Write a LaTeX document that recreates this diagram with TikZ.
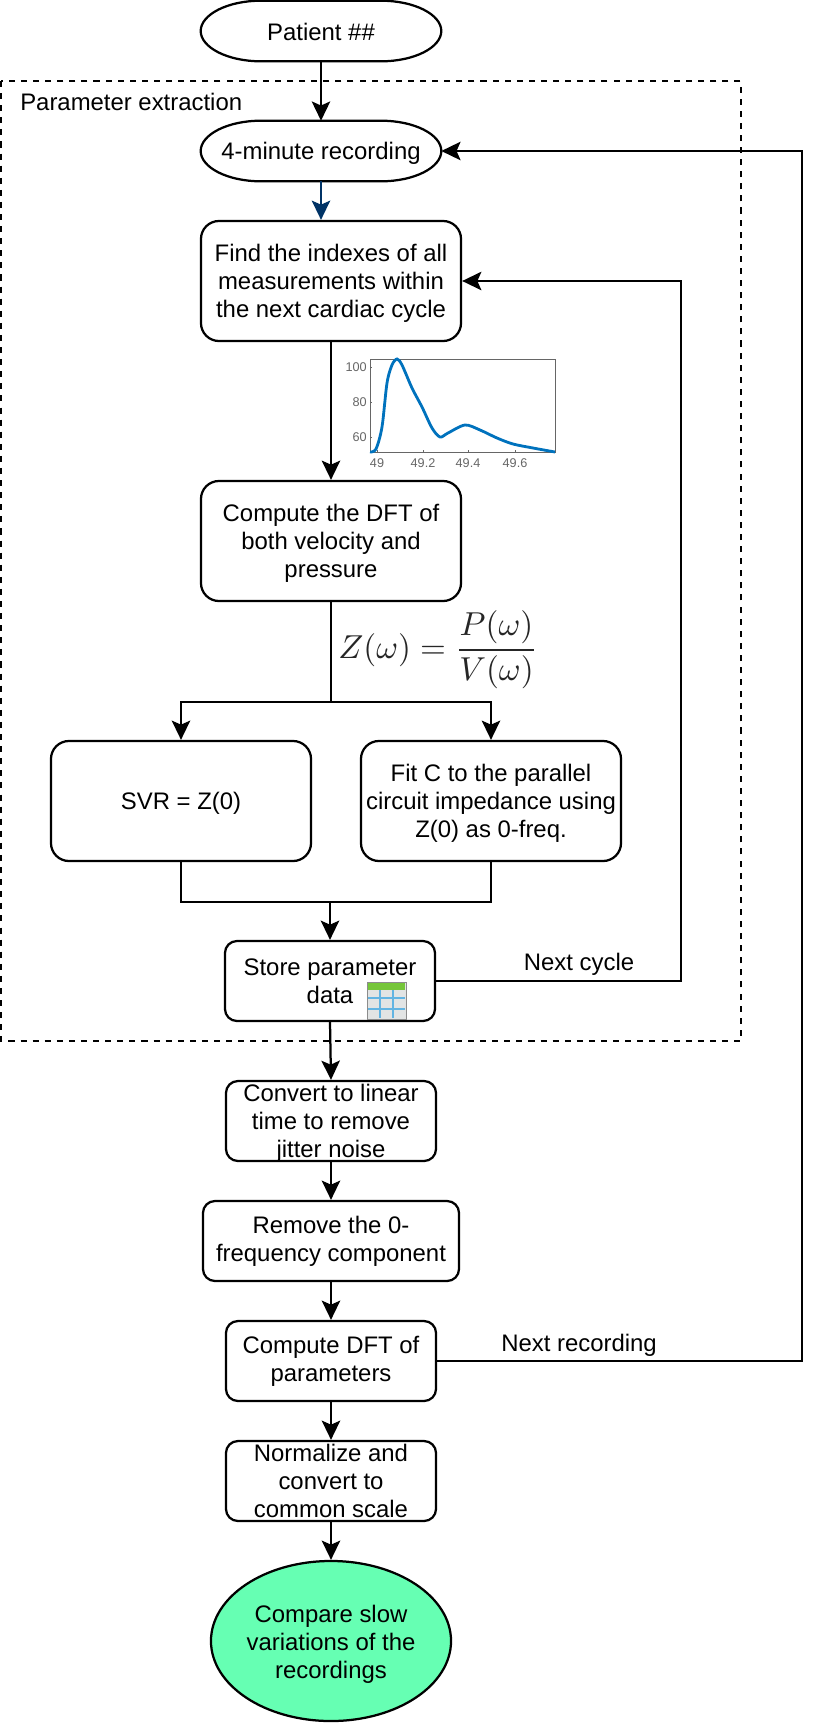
\documentclass[tikz,border=0pt]{standalone}
\usepackage{amsmath}
\usepackage{fontspec}
\setmainfont{Liberation Sans}
\usepackage{xcolor}
\usetikzlibrary{arrows.meta,shapes.geometric,calc}
\definecolor{finalgreen}{HTML}{66FFB3}
\definecolor{darkblue}{HTML}{003366}
\definecolor{plotblue}{HTML}{0072BD}
\definecolor{axisgray}{HTML}{666666}
\definecolor{iconcell}{HTML}{E2E4E4}
\definecolor{icongreen}{HTML}{76C63A}
\definecolor{iconline}{HTML}{62B4E2}
\tikzset{
	stepbox/.style={draw,line width=1.6pt,rounded corners=0.45cm,align=center,inner sep=0pt,font=\fontsize{17}{20}\selectfont},
	lowered/.style={execute at begin node={\rule{0pt}{16pt}}},
	smallbox/.style={stepbox,rounded corners=0.3cm,minimum height=2cm},
	bigbox/.style={stepbox,lowered,minimum width=6.5cm,minimum height=3cm},
	terminal/.style={minimum width=6cm,minimum height=1.5cm,inner sep=0pt},
	goalnode/.style={draw,line width=1.6pt,ellipse,fill=finalgreen,minimum width=6cm,minimum height=4cm,inner sep=0pt},
	caption/.style={align=center,inner sep=0pt,font=\fontsize{17}{20}\selectfont},
	flow/.style={line width=1.6pt,-{Stealth[length=0.48cm,width=0.46cm,inset=0.1cm]}},
	wire/.style={line width=1.6pt},
	ticktext/.style={text=axisgray,inner sep=0pt,font=\fontsize{9}{11}\selectfont},
}
% outline of a start/recording terminal, drawn round its node
\newcommand{\termoutline}[1]{
	\draw[wire] (#1.west) .. controls ($(#1.west)+(0,-16.5)$) and ($(#1.north west)+(27,0)$) .. ($(#1.north west)+(60,0)$)
		-- ($(#1.north east)+(-60,0)$) .. controls ($(#1.north east)+(-27,0)$) and ($(#1.east)+(0,-16.5)$) .. (#1.east)
		.. controls ($(#1.east)+(0,16.5)$) and ($(#1.south east)+(-27,0)$) .. ($(#1.south east)+(-60,0)$)
		-- ($(#1.south west)+(60,0)$) .. controls ($(#1.south west)+(27,0)$) and ($(#1.west)+(0,16.5)$) .. (#1.west) -- cycle;
}
\begin{document}
\begin{tikzpicture}[x=0.025cm,y=-0.025cm]
	\useasboundingbox (0,0) rectangle (818,1724);
	% frame
	\draw[line width=1.4pt,dash pattern=on 4.3pt off 4.3pt] (1,81) rectangle (741,1041);
	\node[caption,anchor=west] (frametitle) at (20,102) {Parameter extraction};

	% top
	\node[terminal] (patient) at (321,31) {};
	\termoutline{patient}
	\node[caption] (patienttext) at (321,32) {Patient \#\#};
	\node[terminal] (recording) at (321,151) {};
	\termoutline{recording}
	\node[caption] (recordingtext) at (321,153) {4-minute recording};

	% parameter extraction
	\node[bigbox] (find) at (331,281) {Find the indexes of all\\measurements within\\\smash{the next cardiac cycle}};
	\node[bigbox] (dft) at (331,541) {Compute the DFT of\\both velocity and\\\smash{pressure}};
	\node[bigbox] (svr) at (181,801) {SVR = Z(0)};
	\node[bigbox] (fit) at (491,801) {Fit C to the parallel\\circuit impedance using\\\smash{Z(0) as 0-freq.}};
	\node[smallbox,lowered,minimum width=5.25cm] (store) at (330,981) {Store parameter\\data};

	% after the frame
	\node[smallbox,minimum width=5.25cm] (linear) at (331,1121) {Convert to linear\\time to remove\\\smash{jitter noise}};
	\node[smallbox,lowered,minimum width=6.4cm] (remove) at (331,1241) {Remove the 0-\\frequency component};
	\node[smallbox,lowered,minimum width=5.25cm] (paramdft) at (331,1361) {Compute DFT of\\parameters};
	\node[smallbox,minimum width=5.25cm] (normal) at (331,1481) {Normalize and\\convert to\\common scale};
	\node[goalnode] (compare) at (331,1641) {};
	\node[caption] (comparetext) at (331,1644) {Compare slow\\variations of the\\recordings};

	% connectors
	\coordinate (split) at (331,702);
	\coordinate (merge) at (330,902);
	\coordinate (cyclecorner) at (681,981);
	\coordinate (reccorner) at (802,1361);
	\draw[flow] (patient.south) -- (recording.north);
	\draw[flow,darkblue] (recording.south) -- (recording.south |- find.north);
	\draw[flow] (find.south) -- (dft.north);
	\draw[wire] (dft.south) -- (split);
	\draw[flow] (split) -| (svr.north);
	\draw[flow] (split) -| (fit.north);
	\draw[wire] (svr.south) |- (merge);
	\draw[wire] (fit.south) |- (merge);
	\draw[flow] (merge) -- (store.north);
	\draw[flow] (store.south) -- (linear.north);
	\draw[flow] (linear.south) -- (remove.north);
	\draw[flow] (remove.south) -- (paramdft.north);
	\draw[flow] (paramdft.south) -- (normal.north);
	\draw[flow] (normal.south) -- (compare.north);
	\draw[flow] (store.east) -- (cyclecorner) |- (find.east);
	\draw[flow] (paramdft.east) -- (reccorner) |- (recording.east);
	\node[caption] (nextcycle) at (579,964) {Next cycle};
	\node[caption] (nextrec) at (579,1345) {Next recording};

	% small plot
	\draw[axisgray,line width=0.7pt] (370,359) rectangle (555,452);
	\foreach \x/\lab in {377/49,423/49.2,468/49.4,515/49.6}{
		\draw[axisgray,line width=0.4pt] (\x,452) -- (\x,450);
		\node[ticktext] at (\x,463) {\lab};
	}
	\foreach \y/\lab in {367/100,402/80,437/60}{
		\draw[axisgray,line width=0.4pt] (370,\y) -- (372,\y);
		\node[ticktext,anchor=east] at (367,\y) {\lab};
	}
	\draw[plotblue,line width=2pt,smooth] plot coordinates {(370,452) (376,449) (382,427) (387,383) (392,365) (397,359) (402,365) (412,388) (422,407) (432,428) (440,437) (448,433) (465,425) (480,430) (497,438) (513,444) (533,448) (555,452)};

	% formula
	\node[scale=2.36,inner sep=0pt,text=black!85] (formula) at (438,650) {$Z(\omega)=\dfrac{P(\omega)}{V(\omega)}$};

	% table icon
	\fill[iconcell] (367,982) rectangle (406,1019);
	\fill[icongreen] (368,983) rectangle (405,990);
	\foreach \x in {380,393}
		\draw[iconline,line width=1.4pt] (\x,990) -- (\x,1018);
	\foreach \y in {998,1009}
		\draw[iconline,line width=1.4pt] (368,\y) -- (405,\y);
	\draw[black!45,line width=0.5pt] (367,982) rectangle (406,1019);
\end{tikzpicture}
\end{document}
